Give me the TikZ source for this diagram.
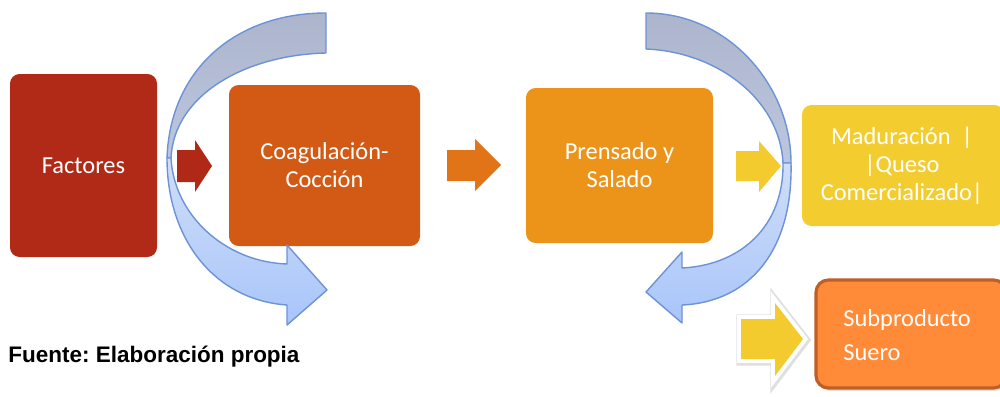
\documentclass[tikz,border=0pt]{standalone}
\usepackage{fontspec}
\setmainfont{Carlito}
\newfontfamily\fuentefont{Liberation Sans}
\usetikzlibrary{calc}
\definecolor{factores}{RGB}{176,42,23}
\definecolor{coagula}{RGB}{210,90,21}
\definecolor{prensado}{RGB}{236,148,26}
\definecolor{madura}{RGB}{243,205,48}
\definecolor{suero}{RGB}{255,138,56}
\definecolor{sueroborde}{RGB}{190,95,40}
\definecolor{rojo}{RGB}{176,40,22}
\definecolor{naranja}{RGB}{224,116,22}
\definecolor{amarillo}{RGB}{243,203,46}
\definecolor{azul}{RGB}{108,147,216}
\definecolor{grisazul}{RGB}{172,181,204}
\definecolor{grisazulb}{RGB}{188,198,222}
\definecolor{celeste}{RGB}{208,222,247}
\definecolor{celesteb}{RGB}{168,197,250}
\begin{document}
\begin{tikzpicture}[x=0.02cm,y=-0.02cm,
  caja/.style={rounded corners=5.5pt},
  texto/.style={text=white,align=center,font=\fontsize{13.9}{15.9}\selectfont},
  curva/.style={draw=azul,line width=0.8pt,line join=round}]
\useasboundingbox (0,0) rectangle (1000,396);
\clip (0,0) rectangle (1000,396);

\fill[factores,caja] (10,74) rectangle (157,257);
\node[texto] (fact) at (83.5,165.5) {Factores};
\fill[coagula,caja] (229,85) rectangle (420,246);
\node[texto] (coag) at (324.5,165.5) {Coagulación-\\Cocción};
\fill[prensado,caja] (526,88) rectangle (713,243);
\node[texto] (prens) at (619.5,165.5) {Prensado y\\Salado};
\fill[madura,caja] (802,105) rectangle (1004,226);
\node[texto] (madur) at (902,165.5) {Maduración~~|\\|Queso\\Comercializado|};
\fill[black,opacity=0.12,rounded corners=7pt] (818,283) rectangle (1008,391);
\draw[sueroborde,fill=suero,line width=1.8pt,rounded corners=7pt] (816,280) rectangle (1006,388);
\node[texto,align=left,anchor=west,inner sep=0pt,font=\fontsize{13.9}{19.3}\selectfont] (suero) at (843,335) {Subproducto\\Suero};

\fill[rojo] (177,150) -- (195,150) -- (195,140) -- (212,166) -- (195,192) -- (195,182) -- (177,182) -- cycle;
\fill[naranja] (447,150) -- (475,150) -- (475,139) -- (501,165) -- (475,191) -- (475,181) -- (447,181) -- cycle;
\fill[amarillo] (736,151) -- (759,151) -- (759,141) -- (781,166) -- (759,192) -- (759,181) -- (736,181) -- cycle;

\draw[black,opacity=0.12,line width=6.5pt,line join=miter,fill] (742,320) -- (776,320) -- (776,304) -- (804,340) -- (776,377) -- (776,360) -- (742,360) -- cycle;
\draw[white,line width=4.5pt,fill=amarillo] (741,319) -- (775,319) -- (775,303) -- (803,339) -- (775,376) -- (775,359) -- (741,359) -- cycle;
\fill[amarillo] (741,319) -- (775,319) -- (775,303) -- (803,339) -- (775,376) -- (775,359) -- (741,359) -- cycle;

\draw[curva,top color=grisazul,bottom color=grisazulb] (326,13) .. controls (235,13) and (170,70) .. (167,158) -- (171,158) .. controls (174,95) and (245,55) .. (326,53) -- cycle;
\draw[curva,top color=celeste,bottom color=celesteb] (171,158) .. controls (174,215) and (225,262) .. (287,264) -- (287,245) -- (327,290) -- (287,325) -- (287,305) .. controls (215,300) and (167,240) .. (167,158) -- cycle;

\draw[curva,top color=grisazul,bottom color=grisazulb] (646,13) .. controls (728,13) and (791,85) .. (791,163) -- (783,163) .. controls (780,100) and (718,52) .. (646,49) -- cycle;
\draw[curva,top color=celeste,bottom color=celesteb] (783,163) .. controls (784,225) and (742,265) .. (682,268) -- (682,252) -- (646,292) -- (682,323) -- (682,305) .. controls (750,302) and (793,250) .. (791,163) -- cycle;

\node[anchor=base west,inner sep=0pt,font=\fuentefont\bfseries\fontsize{12.8}{15}\selectfont\frenchspacing] (fuente) at (8,362) {Fuente: Elaboración propia};
\end{tikzpicture}
\end{document}
